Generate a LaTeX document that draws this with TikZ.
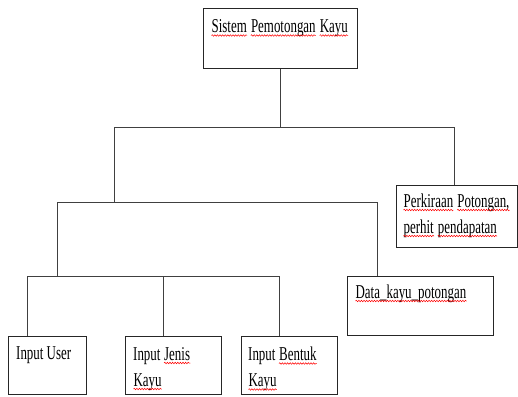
\documentclass[tikz,border=0pt]{standalone}
\usepackage{fontspec}
\setmainfont[FakeStretch=0.66]{Liberation Serif}
\usetikzlibrary{decorations.pathmorphing}
\newcommand\rw[1]{\tikz[x=1cm,y=1cm,baseline=(w.base)]{\node[inner sep=0pt,anchor=base west] (w) at (0,0) {#1};\draw[red, line width=0.5pt, decorate, decoration={snake,amplitude=0.8pt,segment length=2.6pt}] ([yshift=-3pt]w.base west) -- ([yshift=-3pt]w.base east);}}
\tikzset{
  box/.style={draw=black!85, line width=1pt, anchor=north west, inner sep=0pt},
  lbl/.style={anchor=base west, inner sep=0pt, font=\fontsize{19.6}{26}\selectfont, align=left},
  conn/.style={draw=black!75, line width=0.9pt}
}
\begin{document}
\begin{tikzpicture}[x=1pt,y=-1pt]
\useasboundingbox (0,0) rectangle (518,396);
% boxes
\node[box, minimum width=154pt, minimum height=60pt] (top) at (203,8) {};
\node[box, minimum width=121pt, minimum height=62pt] (perk) at (396,185) {};
\node[box, minimum width=146pt, minimum height=59pt] (data) at (347,276) {};
\node[box, minimum width=78pt, minimum height=58pt] (user) at (8,336) {};
\node[box, minimum width=96pt, minimum height=58pt] (jenis) at (125,336) {};
\node[box, minimum width=96pt, minimum height=58pt] (bentuk) at (241,336) {};
% texts (base = baseline of the last line)
\node[lbl] (ttop) at (211,32.5) {\rw{Sistem} \rw{Pemotongan} \rw{Kayu}};
\node[lbl] (tperk) at (403,233) {\rw{Perkiraan} \rw{Potongan,}\\\rw{perhit} \rw{pendapatan}};
\node[lbl] (tdata) at (355,298) {\rw{Data\_kayu\_potongan}};
\node[lbl] (tuser) at (16,359.5) {Input User};
\node[lbl] (tjenis) at (133,386) {Input \rw{Jenis}\\\rw{Kayu}};
\node[lbl] (tbentuk) at (248,386.5) {Input \rw{Bentuk}\\\rw{Kayu}};
% bus coordinates
\coordinate (b1l) at (114,127);
\coordinate (b1r) at (454,127);
\coordinate (b2l) at (57,202);
\coordinate (b2r) at (377,202);
\coordinate (b3l) at (27,276);
\coordinate (b3m) at (163,276);
\coordinate (b3r) at (279,276);
% connectors
\draw[conn] (top.south) -- (top.south |- b1l);
\draw[conn] (b1l) -- (b1r);
\draw[conn] (b1r) -- (b1r |- perk.north);
\draw[conn] (b1l) -- (b1l |- b2l);
\draw[conn] (b2l) -- (b2r);
\draw[conn] (b2r) -- (b2r |- data.north);
\draw[conn] (b2l) -- (b2l |- b3l);
\draw[conn] (b3l) -- (b3r);
\draw[conn] (b3l) -- (b3l |- user.north);
\draw[conn] (b3m) -- (b3m |- jenis.north);
\draw[conn] (b3r) -- (b3r |- bentuk.north);
\end{tikzpicture}
\end{document}
